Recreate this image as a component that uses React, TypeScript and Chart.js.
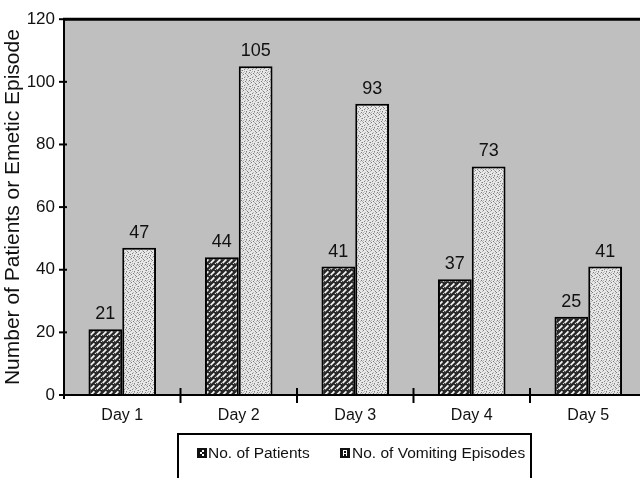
import React, { useEffect, useRef } from "react";
import { Chart, registerables } from "chart.js";

Chart.register(...registerables);

// Daily counts of patients and vomiting episodes
const days = ["Day 1", "Day 2", "Day 3", "Day 4", "Day 5"];
const patients = [21, 44, 41, 37, 25];
const vomitingEpisodes = [47, 105, 93, 73, 41];
const yTicks = [0, 20, 40, 60, 80, 100, 120];
const legendLabels = ["No. of Patients", "No. of Vomiting Episodes"];
const yTitle = "Number of Patients or Emetic Episode";

const FONT = "'Liberation Sans', Arial, Helvetica, sans-serif";
const INK = "#111";

// Dark woven hatch used for the patient bars
function makeHatch(ctx: CanvasRenderingContext2D): CanvasPattern | string {
  const c = document.createElement("canvas");
  c.width = 6;
  c.height = 6;
  const g = c.getContext("2d");
  if (!g) return "#555";
  g.fillStyle = "#262626";
  g.fillRect(0, 0, 6, 6);
  g.strokeStyle = "#f0f0f0";
  g.lineWidth = 1.9;
  g.lineCap = "butt";
  g.beginPath();
  g.moveTo(0.6, 5.2);
  g.lineTo(4.4, 1.4);
  g.moveTo(3.6, 8.2);
  g.lineTo(6.6, 5.2);
  g.moveTo(-2.4, 2.2);
  g.lineTo(-0.4, 0.2);
  g.stroke();
  return ctx.createPattern(c, "repeat") || "#555";
}

// Light speckled fill used for the vomiting-episode bars
const speckDark = [
  [1, 0], [5, 1], [3, 2], [7, 3], [0, 4], [4, 5], [2, 6], [6, 7],
];
const speckMid = [
  [3, 0], [0, 1], [6, 2], [2, 3], [5, 4], [7, 5], [1, 6], [4, 7], [6, 0], [2, 1],
];
function makeSpeckle(ctx: CanvasRenderingContext2D): CanvasPattern | string {
  const c = document.createElement("canvas");
  c.width = 8;
  c.height = 8;
  const g = c.getContext("2d");
  if (!g) return "#ddd";
  g.fillStyle = "#e8e8e8";
  g.fillRect(0, 0, 8, 8);
  g.fillStyle = "#7e7e7e";
  speckDark.forEach(([x, y]) => g.fillRect(x, y, 1, 1));
  g.fillStyle = "#b4b4b4";
  speckMid.forEach(([x, y]) => g.fillRect(x, y, 1, 1));
  return ctx.createPattern(c, "repeat") || "#ddd";
}

const framePlugin = {
  id: "frame",
  beforeDatasetsDraw(chart: any) {
    const { ctx, chartArea } = chart;
    ctx.save();
    ctx.fillStyle = "#bfbfbf";
    ctx.fillRect(
      chartArea.left,
      chartArea.top,
      chartArea.right - chartArea.left,
      chartArea.bottom - chartArea.top
    );
    ctx.restore();
  },
  afterDatasetsDraw(chart: any) {
    const { ctx, chartArea } = chart;
    const xs = chart.scales.x;
    const ys = chart.scales.y;
    ctx.save();
    ctx.strokeStyle = "#000";

    // top border
    ctx.lineWidth = 3;
    ctx.beginPath();
    ctx.moveTo(chartArea.left - 1, chartArea.top);
    ctx.lineTo(chartArea.right, chartArea.top);
    ctx.stroke();

    // value axis line
    ctx.lineWidth = 2;
    ctx.beginPath();
    ctx.moveTo(chartArea.left, chartArea.top);
    ctx.lineTo(chartArea.left, chartArea.bottom + 4);
    ctx.stroke();

    // category axis line
    ctx.beginPath();
    ctx.moveTo(chartArea.left - 5, chartArea.bottom);
    ctx.lineTo(chartArea.right, chartArea.bottom);
    ctx.stroke();

    // value ticks crossing the axis
    yTicks.forEach((v) => {
      const y = ys.getPixelForValue(v);
      ctx.beginPath();
      ctx.moveTo(chartArea.left - 5, y);
      ctx.lineTo(chartArea.left + 3, y);
      ctx.stroke();
    });

    // category separators
    for (let i = 1; i < days.length; i++) {
      const x = (xs.getPixelForValue(i - 1) + xs.getPixelForValue(i)) / 2;
      ctx.beginPath();
      ctx.moveTo(x, chartArea.bottom - 7);
      ctx.lineTo(x, chartArea.bottom + 8);
      ctx.stroke();
    }

    // value labels above bars
    ctx.fillStyle = INK;
    ctx.font = `18px ${FONT}`;
    ctx.textAlign = "center";
    ctx.textBaseline = "alphabetic";
    chart.data.datasets.forEach((ds: any, di: number) => {
      const meta = chart.getDatasetMeta(di);
      meta.data.forEach((bar: any, i: number) => {
        ctx.fillText(String(ds.data[i]), bar.x, bar.y - 10);
      });
    });

    // legend box
    ctx.lineWidth = 2;
    ctx.strokeRect(178, 434, 353, 60);
    const swatchX = [197, 340];
    const textX = [208, 352];
    ctx.font = `15.5px ${FONT}`;
    ctx.textAlign = "left";
    ctx.textBaseline = "middle";
    legendLabels.forEach((label, i) => {
      ctx.fillStyle = "#111";
      ctx.fillRect(swatchX[i], 448, 10, 10);
      ctx.fillStyle = "#fff";
      if (i === 0) {
        ctx.fillRect(swatchX[i] + 5, 450, 2, 2);
        ctx.fillRect(swatchX[i] + 3, 452, 2, 2);
        ctx.fillRect(swatchX[i] + 5, 454, 2, 2);
      } else {
        ctx.fillRect(swatchX[i] + 3, 450, 4, 1);
        ctx.fillRect(swatchX[i] + 3, 450, 1, 6);
        ctx.fillRect(swatchX[i] + 6, 450, 1, 6);
        ctx.fillRect(swatchX[i] + 3, 453, 4, 1);
      }
      ctx.fillStyle = INK;
      ctx.fillText(label, textX[i], 454);
    });
    ctx.restore();
  },
};

export default function App() {
  const canvasRef = useRef<HTMLCanvasElement | null>(null);

  useEffect(() => {
    const canvas = canvasRef.current;
    if (!canvas) return;
    const ctx = canvas.getContext("2d");
    if (!ctx) return;
    const hatch = makeHatch(ctx);
    const speckle = makeSpeckle(ctx);

    const chart = new Chart(canvas, {
      type: "bar",
      data: {
        labels: days,
        datasets: [
          {
            label: legendLabels[0],
            data: patients,
            backgroundColor: hatch as any,
            borderColor: "#000",
            borderWidth: 2,
            borderSkipped: "bottom",
          },
          {
            label: legendLabels[1],
            data: vomitingEpisodes,
            backgroundColor: speckle as any,
            borderColor: "#000",
            borderWidth: 2,
            borderSkipped: "bottom",
          },
        ],
      },
      options: {
        responsive: false,
        animation: false,
        devicePixelRatio: 1,
        layout: { padding: { top: 14.5, right: 13.5, left: 0, bottom: 0 } },
        datasets: { bar: { categoryPercentage: 0.58, barPercentage: 1 } },
        plugins: {
          legend: { display: false },
          tooltip: { enabled: false },
        },
        scales: {
          x: {
            grid: { display: false, drawTicks: false },
            border: { display: false },
            ticks: {
              color: INK,
              font: { family: FONT, size: 16 },
              padding: 11,
              maxRotation: 0,
            },
            afterFit: (s: any) => {
              s.height = 83;
            },
          },
          y: {
            min: 0,
            max: 120,
            grid: { display: false, drawTicks: false },
            border: { display: false },
            afterBuildTicks: (s: any) => {
              s.ticks = yTicks.map((v) => ({ value: v }));
            },
            ticks: {
              color: INK,
              font: { family: FONT, size: 17 },
              padding: 9,
            },
            title: {
              display: true,
              text: yTitle,
              color: INK,
              font: { family: FONT, size: 21, lineHeight: 1.2 },
              padding: { top: 1, bottom: 0 },
            },
            afterFit: (s: any) => {
              s.width = 64;
            },
          },
        },
      },
      plugins: [framePlugin],
    });

    return () => chart.destroy();
  }, []);

  return (
    <div
      style={{
        position: "fixed",
        left: 0,
        top: 0,
        width: 640,
        height: 478,
        overflow: "hidden",
        background: "#fff",
      }}
    >
      <canvas
        ref={canvasRef}
        width={660}
        height={478}
        style={{ display: "block", width: 660, height: 478 }}
      />
    </div>
  );
}
